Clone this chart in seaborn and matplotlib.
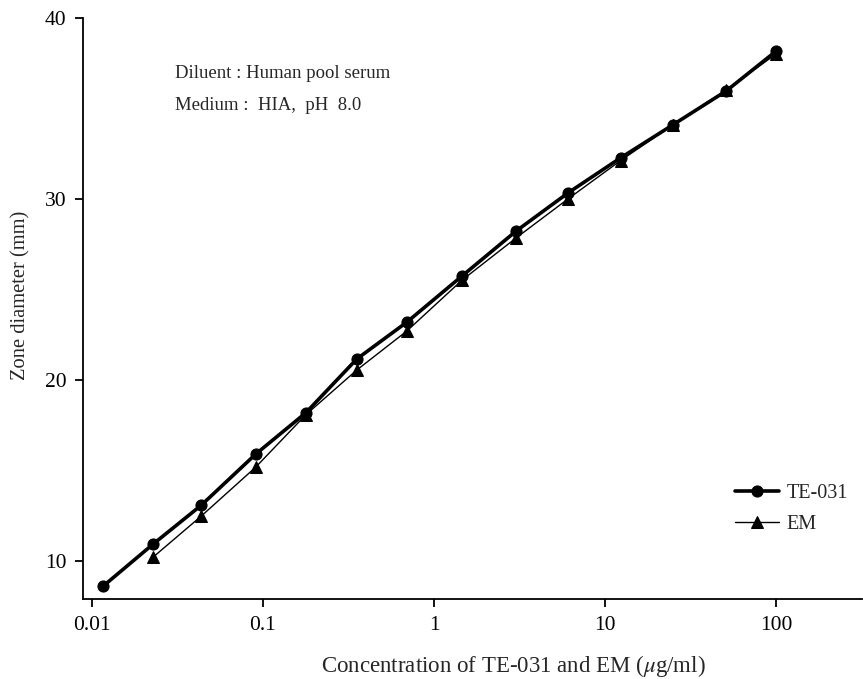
import numpy as np
import pandas as pd
import matplotlib
matplotlib.use("Agg")
import matplotlib.pyplot as plt
import seaborn as sns
from matplotlib.ticker import FixedLocator, NullLocator

# ---- data ----
te_conc = [0.0117, 0.0229, 0.0438, 0.091, 0.178, 0.354, 0.695, 1.46, 3.02, 6.1, 12.3, 24.8, 51.0, 100]
te_zone = [8.62, 10.94, 13.09, 15.91, 18.18, 21.16, 23.20, 25.75, 28.23, 30.35, 32.27, 34.09, 35.97, 38.18]
em_conc = [0.0229, 0.0438, 0.091, 0.178, 0.354, 0.695, 1.46, 3.02, 6.1, 12.3, 24.8, 51.0, 100]
em_zone = [10.22, 12.49, 15.19, 18.07, 20.55, 22.71, 25.52, 27.85, 30.02, 32.12, 34.09, 36.03, 38.02]
xtick_vals = [0.01, 0.1, 1, 10, 100]
xtick_labels = ["0.01", "0.1", "1", "10", "100"]
ytick_vals = [10, 20, 30, 40]

sns.set_style("ticks")
plt.rcParams['font.family'] = ['Liberation Serif', 'DejaVu Serif']
plt.rcParams['mathtext.fontset'] = 'stix'

fig = plt.figure(figsize=(8.63, 6.79), dpi=100)
ax = fig.add_axes([83/863, 1 - 599/679, (862 - 83)/863, (599 - 18)/679])

df_te = pd.DataFrame({"conc": te_conc, "zone": te_zone})
df_em = pd.DataFrame({"conc": em_conc, "zone": em_zone})

sns.lineplot(data=df_te, x="conc", y="zone", ax=ax, color="black", lw=2.6,
             marker="o", markersize=8, markeredgecolor="black", label="TE-031")
sns.lineplot(data=df_em, x="conc", y="zone", ax=ax, color="black", lw=1.0,
             marker="^", markersize=8, markeredgecolor="black", label="EM")

ax.set_xscale("log")
ax.set_xlim(0.0089, 316.7)
ax.set_ylim(7.9, 40)
ax.xaxis.set_major_locator(FixedLocator(xtick_vals))
ax.xaxis.set_minor_locator(NullLocator())
ax.set_xticks(xtick_vals)
ax.set_xticklabels(xtick_labels)
ax.set_yticks(ytick_vals)

for s in ["top", "right"]:
    ax.spines[s].set_visible(False)
for s in ["left", "bottom"]:
    ax.spines[s].set_linewidth(1.3)
    ax.spines[s].set_color("black")
ax.tick_params(axis="both", direction="out", length=6, width=1.3, labelsize=15.5,
               colors="black", pad=6)

ax.set_xlabel(r"Concentration of TE-031 and EM ($\mu$g/ml)", fontsize=16.5)
ax.set_ylabel("Zone diameter (mm)", fontsize=14.8)
ax.xaxis.set_label_coords((513 - 83) / 779, -0.093)
ax.yaxis.set_label_coords(-0.068, 1 - (295 - 18) / 581)

fig.text(175 / 863, 1 - 73 / 679, "Diluent : Human pool serum",
         fontsize=13.5, va="center", ha="left")
fig.text(175 / 863, 1 - 105 / 679, "Medium :  HIA,  pH  8.0",
         fontsize=13.5, va="center", ha="left")

leg = ax.legend(loc="center left", bbox_to_anchor=((727 - 83) / 779, 1 - (509 - 18) / 581),
                frameon=False, fontsize=14.5, handlelength=2.2, handletextpad=0.35,
                labelspacing=0.55, borderaxespad=0)

fig.savefig("out.png", dpi=100)
